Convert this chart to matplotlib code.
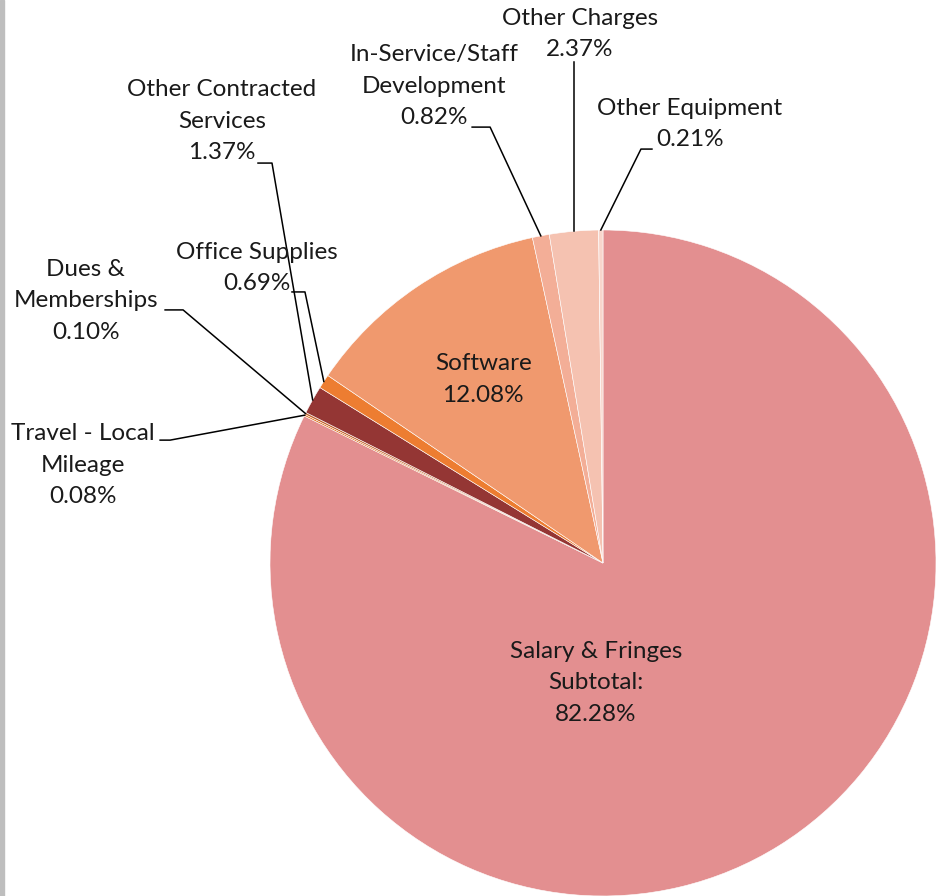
import matplotlib.pyplot as plt
import numpy as np
from matplotlib.patches import Rectangle

labels = ["Salary & Fringes\nSubtotal:", "Travel - Local\nMileage", "Dues &\nMemberships",
          "Other Contracted\nServices", "Office Supplies", "Software",
          "In-Service/Staff\nDevelopment", "Other Charges", "Other Equipment"]
shares = [82.28, 0.08, 0.10, 1.37, 0.69, 12.08, 0.82, 2.37, 0.21]
colors = ["#E38F90", "#E0701E", "#C0602A", "#943634", "#ED7D31", "#F0996E",
          "#F3AE97", "#F5C2B1", "#F8D6CC"]

# label centre, elbow point, line end (data units, radius = 1); None = inside the pie
label_pos = [(-0.021, -0.360), (-1.562, 0.294), (-1.553, 0.787), (-1.144, 1.327),
             (-1.039, 0.886), (-0.360, 0.550), (-0.508, 1.432), (-0.069, 1.589),
             (0.261, 1.318)]
elbows = [None, (-1.300, 0.369), (-1.261, 0.760), (-0.994, 1.201), (-0.895, 0.814),
          None, (-0.339, 1.309), None, (0.114, 1.243)]
ends = [None, (-1.330, 0.369), (-1.315, 0.760), (-1.036, 1.201), (-0.934, 0.814),
        None, (-0.393, 1.309), (None, 1.505), (0.147, 1.243)]

plt.rcParams["font.family"] = ["Lato", "DejaVu Sans"]

fig = plt.figure(figsize=(9.43, 8.96), dpi=100)
ax = fig.add_axes([0, 0, 1, 1])

ax.pie(shares, colors=colors, startangle=90, counterclock=False, radius=1,
       wedgeprops=dict(edgecolor="white", linewidth=0.4))

ax.set_xlim(-603 / 333, 340 / 333)
ax.set_ylim(-333 / 333, 563 / 333)
ax.set_aspect("equal")
ax.axis("off")

total = sum(shares)
cum = np.cumsum([0] + shares)
for i, lab in enumerate(labels):
    txt = "%s\n%.2f%%" % (lab, shares[i])
    ax.text(label_pos[i][0], label_pos[i][1], txt, ha="center", va="center",
            fontsize=17.5, linespacing=1.63, color="#1a1a1a")
    if ends[i] is None:
        continue
    mid = (cum[i] + cum[i + 1]) / 2 / total * 360
    ang = np.deg2rad(90 - mid)
    x0, y0 = np.cos(ang), np.sin(ang)
    if elbows[i] is None:
        ax.plot([x0, x0], [y0, ends[i][1]], color="black", lw=1.1)
    else:
        ax.plot([x0, elbows[i][0], ends[i][0]], [y0, elbows[i][1], ends[i][1]],
                color="black", lw=1.1)

fig.patches.append(Rectangle((0, 0), 4 / 943, 1, transform=fig.transFigure,
                             color="#BEBEBE", zorder=0))

fig.savefig("out.png", dpi=100)
